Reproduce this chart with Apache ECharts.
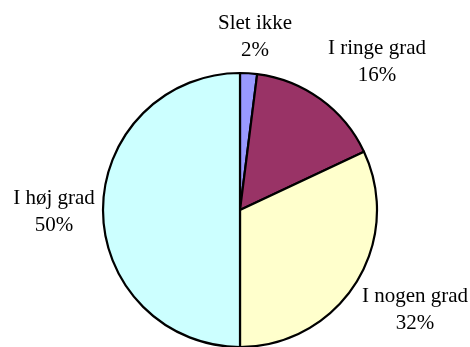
<!DOCTYPE html>
<html>
<head>
<meta charset="utf-8">
<style>
  html, body { margin: 0; padding: 0; background: #fff; }
  #chart { width: 470px; height: 347px; }
</style>
<script src="https://cdn.jsdelivr.net/npm/echarts@6/dist/echarts.min.js"></script>
</head>
<body>
<div id="chart"></div>
<script>
// Answer categories and their shares (%)
const categories = ['Slet ikke', 'I ringe grad', 'I nogen grad', 'I høj grad'];
const shares = [2, 16, 32, 50];
const sliceColors = ['#9999FF', '#993366', '#FFFFCC', '#CCFFFF'];

// Label anchor points (centre of each two-line label)
const labelAnchors = [[255, 37], [377, 62], [415, 310], [54, 212]];

const chart = echarts.init(document.getElementById('chart'), null, { renderer: 'canvas' });

chart.setOption({
  animation: false,
  series: [{
    type: 'pie',
    center: [240, 210],
    radius: 137,
    startAngle: 90,
    clockwise: true,
    data: categories.map((name, i) => ({
      name,
      value: shares[i],
      itemStyle: { color: sliceColors[i] }
    })),
    itemStyle: { borderColor: '#000', borderWidth: 2.2 },
    emphasis: { disabled: true },
    labelLine: { show: false },
    label: {
      show: true,
      position: 'outside',
      overflow: 'none',
      formatter: p => p.name + '\n' + p.value + '%',
      fontFamily: '"Liberation Serif", "Times New Roman", serif',
      fontSize: 21,
      lineHeight: 27,
      color: '#000',
      align: 'center',
      verticalAlign: 'middle'
    },
    labelLayout: params => ({
      x: labelAnchors[params.dataIndex][0],
      y: labelAnchors[params.dataIndex][1],
      align: 'center',
      verticalAlign: 'middle'
    })
  }]
});
</script>
</body>
</html>
